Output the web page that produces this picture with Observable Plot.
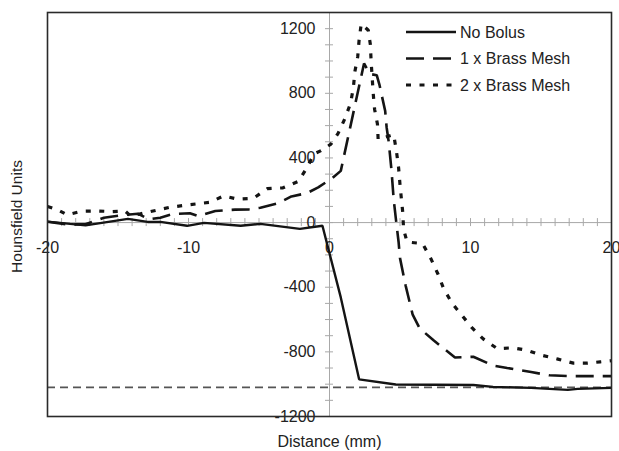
<!DOCTYPE html>
<html><head><meta charset="utf-8">
<script src="https://cdn.jsdelivr.net/npm/d3@7"></script>
<script src="https://cdn.jsdelivr.net/npm/@observablehq/plot@0.6"></script>
<style>
body{margin:0;background:#fff;font-family:"Liberation Sans",Arial,sans-serif}
#wrap{position:relative;width:619px;height:451px}
#legend{position:absolute;left:0;top:0;pointer-events:none}
</style>
</head><body><div id="wrap"></div>
<script>
// ---- data ----
const seriesNames = ["No Bolus", "1 x Brass Mesh", "2 x Brass Mesh"];

const noBolusX  = [-20, -18.4, -17.3, -14.3, -12.9, -12.0, -10.1, -8.9, -6.3, -4.9, -2.1, -0.5, 0.8, 2.1, 4.7, 10.2, 11.6, 14.3, 16.9, 17.6, 20];
const noBolusHU = [6, -8, -17, 23, 4, 4, -20, -2, -20, -8, -39, -20, -463, -970, -1002, -1005, -1017, -1023, -1035, -1029, -1023];

const mesh1X  = [-20, -18.5, -17.3, -16.0, -14.8, -13.6, -12.8, -12.0, -11.1, -9.9, -9.3, -8.1, -6.7, -5.7, -4.9, -3.7, -2.7, -1.6, -0.8, 0.2, 0.8, 2.45, 2.85, 3.35, 3.55, 3.95, 4.05, 4.2, 4.4, 4.55, 4.75, 4.9, 5.0, 5.4, 5.9, 6.4, 7.4, 8.9, 10.2, 11.6, 12.6, 14.3, 15.6, 17.0, 20];
const mesh1HU = [5, -12, -10, 30, 45, 55, 20, 30, 53, 58, 40, 72, 80, 82, 92, 118, 162, 182, 218, 275, 320, 985, 920, 912, 850, 690, 590, 500, 320, 145, -10, -120, -220, -390, -570, -655, -730, -835, -830, -885, -900, -925, -945, -950, -950];

const mesh2X  = [-20, -19.3, -18.6, -17.6, -16.5, -15.4, -14.5, -14.1, -12.6, -11.3, -10.0, -8.5, -7.5, -6.5, -5.4, -4.4, -3.3, -2.2, -1.6, -1.1, -0.6, 0.1, 0.6, 1.1, 1.5, 1.7, 1.8, 2.0, 2.1, 2.25, 2.75, 2.9, 2.95, 3.1, 3.2, 3.4, 3.45, 4.55, 4.75, 4.9, 5.0, 5.1, 5.2, 5.25, 5.5, 6.6, 7.2, 7.7, 8.1, 8.7, 9.4, 10.1, 10.9, 11.9, 13.0, 14.0, 15.0, 16.2, 17.3, 18.3, 19.2, 20];
const mesh2HU = [100, 80, 48, 70, 72, 68, 72, 40, 70, 95, 110, 125, 165, 145, 150, 210, 215, 255, 340, 425, 445, 485, 550, 645, 740, 840, 935, 1025, 1130, 1230, 1190, 1100, 1000, 800, 700, 610, 515, 545, 440, 340, 235, 145, 60, -40, -120, -130, -225, -320, -410, -500, -575, -650, -720, -780, -775, -790, -820, -845, -870, -870, -862, -855];

const airLevel = [-1020];
const xTickLabels = [-20, -10, 0, 10, 20];
const yTickLabels = [-1200, -800, -400, 0, 400, 800, 1200];
const xMinorTicks = d3.range(-20, 21, 1);
const yMinorTicks = d3.range(-1200, 1201, 100);

// ---- tidy table ----
const rows = [
  ...noBolusX.map((x, i) => ({series: seriesNames[0], x, y: noBolusHU[i]})),
  ...mesh1X.map((x, i) => ({series: seriesNames[1], x, y: mesh1HU[i]})),
  ...mesh2X.map((x, i) => ({series: seriesNames[2], x, y: mesh2HU[i]}))
];
const styles = {
  "No Bolus":       {dash: null,   width: 2.4},
  "1 x Brass Mesh": {dash: "18,9", width: 2.6},
  "2 x Brass Mesh": {dash: "5,8.5", width: 3.2}
};
const ink = "#141414";
const axisGray = "#a8a8a8";

const lineFor = name => Plot.line(rows.filter(d => d.series === name), {
  x: "x", y: "y", stroke: ink, strokeWidth: styles[name].width,
  strokeDasharray: styles[name].dash, strokeLinejoin: "miter", strokeLinecap: "butt"
});

const chart = Plot.plot({
  width: 619, height: 451,
  marginTop: 12, marginBottom: 35, marginLeft: 47, marginRight: 8,
  style: {fontFamily: '"Liberation Sans", Arial, sans-serif', fontSize: "16px", background: "#fff", color: "#222"},
  x: {domain: [-20, 20], axis: null},
  y: {domain: [-1200, 1300], axis: null},
  marks: [
    Plot.ruleY([0], {stroke: axisGray, strokeWidth: 1}),
    Plot.ruleX([0], {stroke: axisGray, strokeWidth: 1}),
    Plot.ruleX(xMinorTicks, {x: d => d, y1: () => 0, y2: () => 0, insetTop: -4, insetBottom: -4, stroke: axisGray, strokeWidth: 1}),
    Plot.ruleY(yMinorTicks, {y: d => d, x1: () => 0, x2: () => 0, insetLeft: -4, insetRight: -4, stroke: axisGray, strokeWidth: 1}),
    Plot.text(xTickLabels.map(v => ({x: v, y: 0, t: String(v)})), {x: "x", y: "y", text: "t", dy: 25, textAnchor: "middle", lineAnchor: "middle", fill: "#222", fontSize: 16}),
    Plot.text(yTickLabels.map(v => ({x: 0, y: v, t: String(v)})), {x: "x", y: "y", text: "t", dx: -14, textAnchor: "end", lineAnchor: "middle", fill: "#222", fontSize: 16}),
    Plot.ruleY(airLevel, {stroke: "#555", strokeWidth: 1.6, strokeDasharray: "8,5"}),
    lineFor("No Bolus"),
    lineFor("1 x Brass Mesh"),
    lineFor("2 x Brass Mesh"),
    Plot.frame({stroke: "#2a2a2a", strokeWidth: 1.6}),
    Plot.text(["Distance (mm)"], {frameAnchor: "bottom", dy: 25, textAnchor: "middle", lineAnchor: "middle", fill: "#222", fontSize: 16}),
    Plot.text(["Hounsfield Units"], {frameAnchor: "left", dx: -30, dy: 2, rotate: -90, textAnchor: "middle", lineAnchor: "middle", fill: "#222", fontSize: 15.5})
  ]
});

const wrap = document.getElementById("wrap");
wrap.appendChild(chart);

// ---- legend overlay (inside the plot area, top right) ----
const leg = d3.select(wrap).append("svg").attr("id", "legend")
  .attr("width", 619).attr("height", 110);
seriesNames.forEach((name, i) => {
  const yRow = 32 + i * 26.5;
  leg.append("line").attr("x1", 406).attr("x2", 456).attr("y1", yRow).attr("y2", yRow)
    .attr("stroke", ink).attr("stroke-width", styles[name].width)
    .attr("stroke-dasharray", styles[name].dash);
  leg.append("text").attr("x", 460).attr("y", yRow + 5.5)
    .attr("font-family", '"Liberation Sans", Arial, sans-serif').attr("font-size", 16)
    .attr("fill", "#222").text(name);
});
</script></body></html>
